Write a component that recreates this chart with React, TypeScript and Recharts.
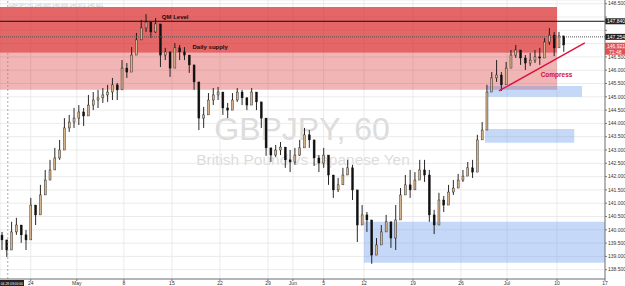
import React from 'react'
import {
  ComposedChart,
  Bar,
  XAxis,
  YAxis,
  CartesianGrid,
  ReferenceArea,
  ReferenceLine,
  ReferenceDot
} from 'recharts'

// GBPJPY, H1 – prices, one candle per half trading day
const closes = [
  139.62, 139.24, 139.92, 140.18, 139.81, 139.62, 140.93, 140.56, 141.31, 141.87,
  142.25, 142.7, 143.0, 143.83, 144.05, 144.2, 144.43, 144.28, 144.69, 144.88,
  144.96, 145.07, 145.18, 145.45, 145.26, 146.08, 145.93, 146.57, 147.14, 147.59,
  147.81, 147.44, 147.74, 146.57, 146.69, 146.08, 146.84, 146.69, 146.57, 146.2,
  145.56, 144.2, 144.32, 144.88, 145.07, 145.18, 144.58, 144.5, 144.88, 145.18,
  144.96, 144.69, 145.18, 144.81, 144.2, 143.08, 142.81, 143.0, 143.11, 142.63,
  142.55, 142.81, 143.08, 143.57, 143.38, 142.7, 142.51, 142.81, 142.06, 141.5,
  141.69, 142.06, 142.33, 141.5, 140.18, 140.56, 140.37, 139.05, 139.43, 139.92,
  140.3, 139.69, 140.37, 141.31, 141.69, 141.5, 141.87, 142.25, 142.06, 140.56,
  140.18, 141.12, 140.93, 141.42, 141.57, 141.87, 142.02, 142.33, 142.17, 143.38,
  143.75, 145.18, 145.71, 145.82, 145.45, 146.08, 146.57, 146.76, 146.46, 146.27,
  146.38, 146.5, 146.46, 147.06, 147.32, 146.84, 147.29, 146.95
]
const highs = [
  139.92, 139.51, 140.3, 140.45, 140.18, 139.99, 141.2, 140.93, 141.69, 142.25,
  142.63, 143.08, 143.38, 144.2, 144.32, 144.58, 144.69, 144.58, 145.07, 145.18,
  145.26, 145.33, 145.45, 145.71, 145.52, 146.38, 146.27, 146.87, 147.4, 147.89,
  148.11, 147.7, 147.96, 147.51, 146.84, 146.38, 147.02, 146.95, 146.87, 146.5,
  145.82, 145.33, 144.62, 145.14, 145.33, 145.37, 144.96, 144.77, 145.14, 145.33,
  145.26, 144.99, 145.33, 145.07, 144.58, 143.94, 143.08, 143.19, 143.3, 142.93,
  143.0, 143.08, 143.38, 143.83, 143.75, 143.08, 142.81, 143.08, 142.44, 141.87,
  141.95, 142.33, 142.63, 142.44, 141.31, 140.93, 140.67, 139.99, 139.69, 140.18,
  140.56, 140.18, 140.93, 141.57, 142.06, 142.25, 142.17, 142.63, 142.63, 142.25,
  140.75, 141.39, 141.27, 141.69, 141.87, 142.1, 142.25, 142.55, 142.63, 143.57,
  144.05, 145.45, 145.93, 146.38, 145.93, 146.31, 146.76, 146.95, 146.76, 146.57,
  146.65, 146.76, 146.84, 147.21, 147.59, 147.44, 147.44, 147.21
]
const lows = [
  139.24, 138.98, 139.43, 139.81, 139.51, 139.24, 139.81, 140.18, 140.75, 141.31,
  141.87, 142.25, 142.63, 143.38, 143.68, 143.83, 143.94, 143.9, 144.32, 144.5,
  144.58, 144.77, 144.81, 144.88, 144.88, 145.75, 145.71, 146.31, 146.84, 147.25,
  147.44, 147.21, 147.4, 146.12, 146.38, 145.75, 146.57, 146.38, 146.38, 145.9,
  145.26, 143.75, 143.83, 144.5, 144.69, 144.88, 144.32, 144.2, 144.58, 144.81,
  144.69, 144.5, 144.88, 144.5, 143.83, 142.78, 142.55, 142.74, 142.81, 142.33,
  142.17, 142.44, 142.78, 143.19, 143.08, 142.4, 142.17, 142.33, 141.69, 141.2,
  141.42, 141.76, 142.06, 141.12, 139.54, 140.18, 139.92, 138.72, 139.05, 139.54,
  139.99, 139.32, 139.24, 140.93, 141.42, 141.2, 141.57, 141.95, 141.8, 140.3,
  139.84, 140.75, 140.67, 141.05, 141.31, 141.57, 141.8, 142.06, 141.95, 142.81,
  143.45, 143.83, 145.26, 145.56, 145.22, 145.63, 146.31, 146.46, 146.2, 146.01,
  146.16, 146.27, 146.2, 146.69, 146.95, 146.53, 146.95, 146.69
]
const firstOpen = 139.8
const firstDay = -2.75 // trading days from Mon 24 Apr
const dayStep = 0.5

const dayTicks = [0.2, 5, 9.9, 14.9, 19.9, 24.9, 27.5, 30.7, 34.9, 40, 45, 49.8, 55, 60]
const dayLabels = ['24', 'May', '8', '15', '22', '29', 'Jun', '5', '12', '19', '26', 'Jul', '10', '17']
const priceTicks = [
  138.5, 139, 139.5, 140, 140.5, 141, 141.5, 142, 142.5, 143, 143.5, 144,
  144.5, 145, 145.5, 146, 146.5, 147, 147.5, 148, 148.5
]
// these tick labels sit under the price tags on the axis
const hiddenPriceLabels = [147, 147.5, 148]

// zones: [fromDay, toDay, lowPrice, highPrice]
const supplyDark = [-3, 55, 146.66, 148.38]
const supplyLight = [-3, 55, 145.27, 146.66]
const demandZones = [
  [47.8, 57.6, 145.0, 145.41],
  [47.5, 56.8, 143.27, 143.79],
  [34.9, 60, 138.76, 140.3]
]
const qmLevel = 147.84
const dottedLevel = 147.254
const lastPrice = 146.921
const compressLine = [
  { x: 48.96, y: 145.22 },
  { x: 57.9, y: 147.03 }
]

const candles = closes.map((c, i) => ({
  t: firstDay + i * dayStep,
  open: i === 0 ? firstOpen : closes[i - 1],
  high: highs[i],
  low: lows[i],
  close: c,
  range: [lows[i], highs[i]]
}))

const FONT = "'Liberation Sans', Arial, sans-serif"

const Candle = (props: any) => {
  const { x, y, width, height, payload } = props
  if (!payload) return null
  const top = Math.min(y, y + height)
  const h = Math.abs(height)
  const k = h / (payload.high - payload.low || 1)
  const up = payload.close >= payload.open
  const bTop = top + (payload.high - Math.max(payload.open, payload.close)) * k
  const bBot = top + (payload.high - Math.min(payload.open, payload.close)) * k
  const cx = x + width / 2
  return (
    <g>
      <line x1={cx} x2={cx} y1={top} y2={top + h} stroke='#111' strokeWidth={0.9} />
      <rect
        x={x}
        y={bTop}
        width={width}
        height={Math.max(1, bBot - bTop)}
        fill={up ? '#d6b38c' : '#111'}
        stroke='#111'
        strokeWidth={0.4}
      />
    </g>
  )
}

const axisTag = (text: string, bg: string, extra?: string) => (p: any) => {
  const vb = p.viewBox
  const x = vb.x + vb.width
  return (
    <g>
      <rect x={x} y={vb.y - 3} width={20} height={6} fill={bg} />
      <text x={x + 2} y={vb.y + 1.8} fontSize={5} fill='#fff' fontFamily={FONT}>
        {text}
      </text>
      {extra && (
        <g>
          <rect x={x} y={vb.y + 3} width={20} height={6} fill={bg} />
          <text x={x + 4} y={vb.y + 7.8} fontSize={5} fill='#fff' fontFamily={FONT}>
            {extra}
          </text>
        </g>
      )}
    </g>
  )
}

const timeTag = (p: any) => {
  const vb = p.viewBox
  const x = Math.max(0, vb.x - 14)
  return (
    <g>
      <rect x={x} y={vb.y + vb.height + 1} width={24} height={6} fill='#222' />
      <text
        x={x + 0.8}
        y={vb.y + vb.height + 5.6}
        fontSize={4}
        fill='#fff'
        fontFamily={FONT}
        textLength={22}
        lengthAdjust='spacingAndGlyphs'
      >
        04-28 03:00:00
      </text>
    </g>
  )
}

const note = (text: string, color: string, size: number) => (p: any) => (
  <text
    x={p.viewBox.x}
    y={p.viewBox.y}
    fontSize={size}
    fontWeight='bold'
    fill={color}
    fontFamily={FONT}
    dominantBaseline='middle'
  >
    {text}
  </text>
)

export default function App() {
  return (
    <div style={{ position: 'absolute', left: 0, top: 0, width: 625, height: 286, background: '#fff' }}>
      <svg width={625} height={286} style={{ position: 'absolute', left: 0, top: 0 }}>
        <text x={9} y={7} fontSize={4.5} fill='#c4c4c4' fontFamily={FONT}>
          GBPJPY,H1 146.905 146.956 146.872 146.921
        </text>
        <text x={302} y={140} fontSize={32} fill='#dcdcdc' textAnchor='middle' fontFamily={FONT}>
          GBPJPY, 60
        </text>
        <text x={303} y={165} fontSize={15.5} fill='#dcdcdc' textAnchor='middle' fontFamily={FONT}>
          British Pound vs Japanese Yen
        </text>
      </svg>
      <div style={{ position: 'absolute', left: 0, top: 0 }}>
        <ComposedChart
          width={625}
          height={286}
          data={candles}
          margin={{ top: 0, right: 0, bottom: 0, left: 0 }}
        >
          <CartesianGrid stroke='#e6e6e6' strokeWidth={0.8} />
          <XAxis
            dataKey='t'
            type='number'
            domain={[-3, 60]}
            allowDataOverflow
            ticks={dayTicks}
            interval={0}
            tickFormatter={(v: number) => dayLabels[dayTicks.indexOf(v)] ?? ''}
            height={7}
            tickSize={2}
            tickMargin={0}
            axisLine={{ stroke: '#777' }}
            tickLine={{ stroke: '#777' }}
            tick={{ fontSize: 5, fill: '#333', fontFamily: FONT }}
          />
          <YAxis
            orientation='right'
            type='number'
            domain={[138.15, 148.64]}
            allowDataOverflow
            ticks={priceTicks}
            interval={0}
            tickFormatter={(v: number) => (hiddenPriceLabels.includes(v) ? '' : v.toFixed(3))}
            width={20}
            tickSize={2}
            tickMargin={1}
            axisLine={{ stroke: '#777' }}
            tickLine={{ stroke: '#777' }}
            tick={{ fontSize: 5, fill: '#333', fontFamily: FONT, textAnchor: 'start' }}
          />
          <ReferenceArea
            x1={supplyDark[0]}
            x2={supplyDark[1]}
            y1={supplyDark[2]}
            y2={supplyDark[3]}
            fill='#d71e1e'
            fillOpacity={0.68}
            stroke='none'
          />
          <ReferenceArea
            x1={supplyLight[0]}
            x2={supplyLight[1]}
            y1={supplyLight[2]}
            y2={supplyLight[3]}
            fill='#d71e1e'
            fillOpacity={0.33}
            stroke='none'
          />
          {demandZones.map((z, i) => (
            <ReferenceArea
              key={`dz-${i}`}
              x1={z[0]}
              x2={z[1]}
              y1={z[2]}
              y2={z[3]}
              fill='#6495ed'
              fillOpacity={0.37}
              stroke='none'
            />
          ))}
          <ReferenceLine
            x={-2.19}
            stroke='#888'
            strokeDasharray='2 2'
            strokeWidth={0.7}
            label={timeTag}
          />
          <ReferenceLine y={qmLevel} stroke='#111' strokeWidth={1} label={axisTag('147.840', '#222')} />
          <ReferenceLine
            y={dottedLevel}
            stroke='#555'
            strokeDasharray='1 1'
            strokeWidth={1}
            label={axisTag('147.254', '#222')}
          />
          <ReferenceLine
            y={lastPrice}
            stroke='none'
            strokeOpacity={0}
            label={axisTag('146.921', '#e05050', '71:48')}
          />
          <ReferenceLine segment={compressLine} stroke='#dc143c' strokeWidth={1.4} />
          <Bar
            dataKey='range'
            barSize={2}
            shape={Candle}
            isAnimationActive={false}
          />
          <ReferenceDot x={13.85} y={148.0} r={0} stroke='none' label={note('QM Level', '#2a0808', 6)} />
          <ReferenceDot x={17.05} y={146.84} r={0} stroke='none' label={note('Daily supply', '#2a0808', 6)} />
          <ReferenceDot x={53.3} y={145.82} r={0} stroke='none' label={note('Compress', '#d0142c', 6.5)} />
        </ComposedChart>
      </div>
    </div>
  )
}
